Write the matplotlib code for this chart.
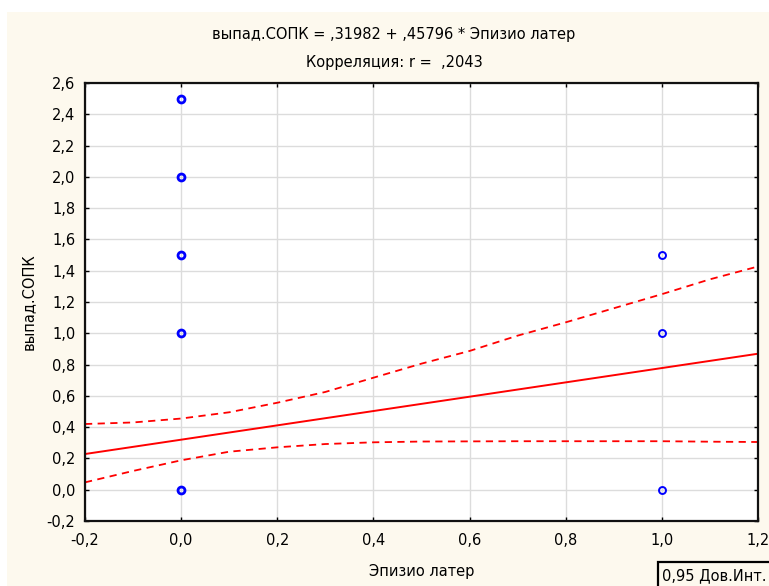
import matplotlib

matplotlib.use("Agg")
import matplotlib.pyplot as plt
from matplotlib.patches import Rectangle

plt.rcParams["font.family"] = ["DejaVu Sans"]

# observed points (x = Эпизио латер, y = выпад.СОПК)
pts_x0 = [0.0, 0.0, 0.0, 0.0, 0.0]
pts_y0 = [0.0, 1.0, 1.5, 2.0, 2.5]
pts_x1 = [1.0, 1.0, 1.0]
pts_y1 = [0.0, 1.0, 1.5]

# regression from the title
intercept = 0.31982
slope = 0.45796
line_x = [-0.2, 1.2]

# 0.95 confidence band
band_x = [-0.2, -0.1, 0.0, 0.1, 0.2, 0.3, 0.4, 0.5, 0.6, 0.7, 0.8, 0.9, 1.0, 1.1, 1.2]
band_hi = [0.42, 0.43, 0.455, 0.495, 0.556, 0.625, 0.716, 0.806, 0.887, 0.985, 1.07, 1.16, 1.25, 1.345, 1.427]
band_lo = [0.047, 0.12, 0.188, 0.243, 0.271, 0.292, 0.303, 0.308, 0.309, 0.31, 0.31, 0.31, 0.31, 0.307, 0.305]

xticks = [-0.2, 0.0, 0.2, 0.4, 0.6, 0.8, 1.0, 1.2]
yticks = [-0.2, 0.0, 0.2, 0.4, 0.6, 0.8, 1.0, 1.2, 1.4, 1.6, 1.8, 2.0, 2.2, 2.4, 2.6]

CREAM = "#fdf9ee"
FS = 10.5


def comma(v):
    return f"{v:.1f}".replace(".", ",")


fig = plt.figure(figsize=(7.69, 5.86), dpi=100, facecolor="white")
W, H = 769, 586
fig.patches.append(Rectangle((7 / W, 0), 1, 1 - 12 / H, transform=fig.transFigure,
                             facecolor=CREAM, edgecolor="none", zorder=-10))

ax = fig.add_axes([85 / W, 1 - 521 / H, (758 - 85) / W, (521 - 83) / H])
ax.set_facecolor("white")
ax.set_xlim(-0.2, 1.2)
ax.set_ylim(-0.2, 2.6)
ax.set_xticks(xticks)
ax.set_yticks(yticks)
ax.set_xticklabels([comma(v) for v in xticks], fontsize=FS)
ax.set_yticklabels([comma(v) for v in yticks], fontsize=FS)
ax.tick_params(direction="in", length=3, width=1, top=True, right=True)
ax.tick_params(axis="x", pad=8.5)
ax.tick_params(axis="y", pad=7)
ax.grid(True, color="#dcdcdc", lw=1)
ax.set_axisbelow(True)
for s in ax.spines.values():
    s.set_linewidth(1.6)
    s.set_color("#111111")

ax.plot(band_x, band_hi, color="#ff0000", lw=1.3, ls=(0, (4, 3)), clip_on=False)
ax.plot(band_x, band_lo, color="#ff0000", lw=1.3, ls=(0, (4, 3)), clip_on=False)
ax.plot(line_x, [intercept + slope * v for v in line_x], color="#ff0000", lw=1.4)

ax.plot(pts_x0, pts_y0, "o", ms=5, mfc="none", mec="#0000ff", mew=2.0)
ax.plot(pts_x1, pts_y1, "o", ms=5, mfc="none", mec="#0000ff", mew=1.4)

ax.set_xlabel("Эпизио латер", fontsize=FS, labelpad=12)
ax.set_ylabel("выпад.СОПК", fontsize=FS, labelpad=8)

fig.text(394 / W, 1 - 35 / H, "выпад.СОПК = ,31982 + ,45796 * Эпизио латер",
         ha="center", va="center", fontsize=FS)
fig.text(394 / W, 1 - 62 / H, "Корреляция: r =  ,2043",
         ha="center", va="center", fontsize=FS)

# legend box, clipped at the figure edge
fig.patches.append(Rectangle((658 / W, -0.05), 0.2, 1 - 562 / H + 0.05,
                             transform=fig.transFigure, facecolor=CREAM,
                             edgecolor="black", lw=1.6))
fig.text(662 / W, 1 - 576 / H, "0,95 Дов.Инт.", ha="left", va="center", fontsize=FS)

fig.savefig("out.png", dpi=100, facecolor=fig.get_facecolor())
